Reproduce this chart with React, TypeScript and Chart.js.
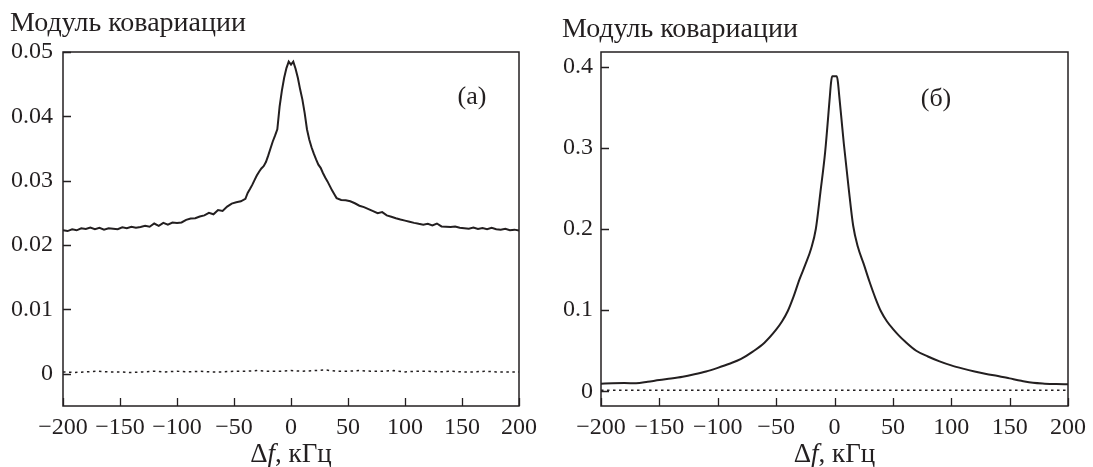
import React, { useEffect, useRef } from 'react';
import { Chart, registerables } from 'chart.js';

Chart.register(...registerables);

const FONT = '"Liberation Serif", "Times New Roman", serif';
const INK = '#231f20';

// ---- tick values & labels ----
const xTicks = [-200, -150, -100, -50, 0, 50, 100, 150, 200];
const xTickLabels = ['−200', '−150', '−100', '−50', '0', '50', '100', '150', '200'];
const yTicksA = [0, 0.01, 0.02, 0.03, 0.04, 0.05];
const yTickLabelsA = ['0', '0.01', '0.02', '0.03', '0.04', '0.05'];
const yTicksB = [0, 0.1, 0.2, 0.3, 0.4];
const yTickLabelsB = ['0', '0.1', '0.2', '0.3', '0.4'];

// ---- panel (а): solid curve ----
const freqA = [
  -200, -196, -192, -188, -184, -180, -176, -172, -168, -164, -160, -156, -152, -148, -144, -140,
  -136, -132, -128, -124, -120, -116, -112, -108, -104, -100, -96, -92, -88, -84, -80, -76, -72,
  -68, -64, -60, -56, -52, -48, -44, -40, -38, -36, -34, -32, -30, -28, -26, -24, -22, -20, -18,
  -16, -14, -12, -10, -8, -6, -4, -2, 0, 2, 4, 6, 8, 10, 12, 14, 16, 18, 20, 22, 24, 26, 28, 30,
  32, 34, 36, 38, 40, 44, 48, 52, 56, 60, 64, 68, 72, 76, 80, 84, 88, 92, 96, 100, 104, 108, 112,
  116, 120, 124, 128, 132, 136, 140, 144, 148, 152, 156, 160, 164, 168, 172, 176, 180, 184, 188,
  192, 196, 200,
];
const covA = [
  0.02232, 0.02218, 0.02245, 0.0223, 0.02262, 0.0225, 0.02272, 0.02248, 0.02268, 0.0224, 0.02262,
  0.02255, 0.02246, 0.02275, 0.02262, 0.02285, 0.0227, 0.02282, 0.023, 0.02285, 0.02335, 0.023,
  0.02345, 0.02318, 0.0235, 0.02345, 0.02352, 0.02392, 0.02412, 0.02418, 0.02445, 0.02462, 0.025,
  0.02478, 0.02545, 0.0253, 0.02598, 0.02645, 0.02665, 0.0268, 0.0272, 0.0281, 0.0287, 0.02935,
  0.0301, 0.0308, 0.0314, 0.0319, 0.03225, 0.0329, 0.0339, 0.035, 0.0361, 0.037, 0.038, 0.0415,
  0.044, 0.046, 0.0475, 0.0485, 0.04805, 0.0485, 0.0474, 0.046, 0.0442, 0.0426, 0.0405, 0.038,
  0.0364, 0.0352, 0.0342, 0.0333, 0.0325, 0.032, 0.0312, 0.0305, 0.0299, 0.0292, 0.0285, 0.0279,
  0.0273, 0.027, 0.02695, 0.0268, 0.0265, 0.02612, 0.0259, 0.0256, 0.02528, 0.02495, 0.02512,
  0.02462, 0.0244, 0.02418, 0.02398, 0.0238, 0.02362, 0.02345, 0.0233, 0.02318, 0.0233, 0.02305,
  0.02335, 0.0229, 0.02285, 0.0228, 0.0229, 0.0227, 0.02262, 0.02255, 0.02272, 0.0225, 0.02265,
  0.02248, 0.02268, 0.02245, 0.0224, 0.02252, 0.0223, 0.0224, 0.02225,
];

// ---- panel (а): dotted curve ----
const freqDotA = [
  -200, -190, -180, -170, -160, -150, -140, -130, -120, -110, -100, -90, -80, -70, -60, -50, -40,
  -30, -20, -10, 0, 10, 20, 30, 40, 50, 60, 70, 80, 90, 100, 110, 120, 130, 140, 150, 160, 170,
  180, 190, 200,
];
const dotA = [
  0.0003, 0.0002, 0.0003, 0.0004, 0.0003, 0.0003, 0.0002, 0.0003, 0.0004, 0.0003, 0.0004, 0.0003,
  0.0004, 0.0003, 0.0003, 0.0004, 0.0004, 0.0005, 0.0004, 0.0004, 0.0005, 0.0004, 0.0005, 0.0006,
  0.0004, 0.0004, 0.0005, 0.0004, 0.0004, 0.0005, 0.0003, 0.0004, 0.0004, 0.0003, 0.0004, 0.0003,
  0.0003, 0.0004, 0.0003, 0.0003, 0.0003,
];

// ---- panel (б): solid curve ----
const freqB = [
  -200, -190, -180, -170, -160, -150, -140, -130, -120, -110, -100, -90, -80, -70, -60, -50, -45,
  -40, -35, -30, -25, -20, -16, -12, -8, -4, -3, -2, 2, 3, 4, 6, 8, 12, 16, 20, 25, 30, 35, 40, 45,
  50, 55, 60, 70, 80, 90, 100, 110, 120, 130, 140, 150, 160, 170, 180, 190, 200,
];
const covB = [
  0.0095, 0.01, 0.0102, 0.01, 0.0118, 0.014, 0.0158, 0.018, 0.021, 0.0245, 0.029, 0.034, 0.04,
  0.049, 0.06, 0.076, 0.086, 0.099, 0.117, 0.138, 0.156, 0.176, 0.2, 0.246, 0.295, 0.363, 0.38,
  0.388, 0.388, 0.38, 0.365, 0.335, 0.305, 0.252, 0.204, 0.178, 0.157, 0.135, 0.115, 0.098, 0.086,
  0.077, 0.069, 0.062, 0.05, 0.043, 0.037, 0.032, 0.028, 0.0245, 0.0215, 0.019, 0.016, 0.013,
  0.0105, 0.0095, 0.009, 0.0088,
];

// ---- panel (б): dotted curve ----
const freqDotB = [-200, -150, -100, -50, 0, 50, 100, 150, 200];
const dotB = [0.0015, 0.0015, 0.0015, 0.0015, 0.0015, 0.0015, 0.0015, 0.0015, 0.0015];

type PanelSpec = {
  width: number;
  axisW: number;
  padRight: number;
  yMin: number;
  yMax: number;
  yTicks: number[];
  yLabels: string[];
  yPad: number;
  freq: number[];
  cov: number[];
  freqDot: number[];
  dot: number[];
  smooth: boolean;
  tag: string;
  tagX: number;
  tagY: number;
  titleX: number;
  titleY: number;
};

const TOP = 52;
const X_AXIS_H = 61;

function makeFramePlugin(p: PanelSpec) {
  return {
    id: 'frameAndText',
    afterDraw(chart: any) {
      const { ctx, chartArea: a, scales } = chart;
      ctx.save();
      ctx.strokeStyle = INK;
      ctx.lineWidth = 1.5;
      ctx.strokeRect(a.left, a.top, a.right - a.left, a.bottom - a.top);
      ctx.lineWidth = 1.3;
      ctx.beginPath();
      xTicks.forEach((v) => {
        const px = Math.round(scales.x.getPixelForValue(v)) + 0.5;
        ctx.moveTo(px, a.bottom);
        ctx.lineTo(px, a.bottom - 8);
      });
      p.yTicks.forEach((v) => {
        const py = Math.round(scales.y.getPixelForValue(v)) + 0.5;
        ctx.moveTo(a.left, py);
        ctx.lineTo(a.left + 8, py);
      });
      ctx.stroke();

      ctx.fillStyle = INK;
      ctx.textBaseline = 'middle';
      ctx.font = `28px ${FONT}`;
      ctx.textAlign = 'left';
      ctx.fillText('Модуль ковариации', p.titleX, p.titleY);
      ctx.font = `26px ${FONT}`;
      ctx.textAlign = 'center';
      ctx.fillText(p.tag, p.tagX, p.tagY);

      // axis title: Δf, кГц (f italic)
      const parts: [string, string][] = [
        ['Δ', `27px ${FONT}`],
        ['f', `italic 27px ${FONT}`],
        [', кГц', `27px ${FONT}`],
      ];
      let total = 0;
      const widths = parts.map(([t, f]) => {
        ctx.font = f;
        const w = ctx.measureText(t).width;
        total += w;
        return w;
      });
      let x = (a.left + a.right) / 2 - total / 2;
      ctx.textAlign = 'left';
      parts.forEach(([t, f], i) => {
        ctx.font = f;
        ctx.fillText(t, x, 455);
        x += widths[i];
      });
      ctx.restore();
    },
  };
}

function Panel({ p, left }: { p: PanelSpec; left: number }) {
  const ref = useRef<HTMLCanvasElement>(null);
  useEffect(() => {
    if (!ref.current) return;
    const chart = new Chart(ref.current, {
      type: 'line',
      data: {
        datasets: [
          {
            data: p.freq.map((f, i) => ({ x: f, y: p.cov[i] })),
            borderColor: INK,
            borderWidth: 2,
            pointRadius: 0,
            tension: 0,
            cubicInterpolationMode: p.smooth ? 'monotone' : 'default',
            fill: false,
          },
          {
            data: p.freqDot.map((f, i) => ({ x: f, y: p.dot[i] })),
            borderColor: INK,
            borderWidth: 1.5,
            borderDash: [2.5, 3.5],
            pointRadius: 0,
            tension: 0,
            fill: false,
          },
        ],
      },
      options: {
        animation: false,
        responsive: false,
        devicePixelRatio: 1,
        layout: { padding: { left: 0, top: TOP, right: p.padRight, bottom: 0 } },
        plugins: {
          legend: { display: false },
          tooltip: { enabled: false },
        },
        scales: {
          x: {
            type: 'linear',
            min: -200,
            max: 200,
            grid: { display: false, drawTicks: false },
            border: { display: false },
            afterBuildTicks: (s: any) => {
              s.ticks = xTicks.map((v) => ({ value: v }));
            },
            afterFit: (s: any) => {
              s.height = X_AXIS_H;
            },
            ticks: {
              padding: 7,
              color: INK,
              autoSkip: false,
              maxRotation: 0,
              font: { family: FONT, size: 24 },
              callback: (_v: any, i: number) => xTickLabels[i],
            },
          },
          y: {
            type: 'linear',
            min: p.yMin,
            max: p.yMax,
            grid: { display: false, drawTicks: false },
            border: { display: false },
            afterBuildTicks: (s: any) => {
              s.ticks = p.yTicks.map((v) => ({ value: v }));
            },
            afterFit: (s: any) => {
              s.width = p.axisW;
            },
            ticks: {
              padding: p.yPad,
              color: INK,
              autoSkip: false,
              font: { family: FONT, size: 24 },
              callback: (_v: any, i: number) => p.yLabels[i],
            },
          },
        },
      },
      plugins: [makeFramePlugin(p)],
    } as any);
    return () => chart.destroy();
  }, [p]);
  return (
    <div style={{ position: 'absolute', left, top: 0, width: p.width, height: 467 }}>
      <canvas ref={ref} width={p.width} height={467} style={{ width: p.width, height: 467 }} />
    </div>
  );
}

const panelA: PanelSpec = {
  width: 546,
  axisW: 63,
  padRight: 27,
  yMin: -0.005,
  yMax: 0.05,
  yTicks: yTicksA,
  yLabels: yTickLabelsA,
  yPad: 10,
  freq: freqA,
  cov: covA,
  freqDot: freqDotA,
  dot: dotA,
  smooth: false,
  tag: '(а)',
  tagX: 472,
  tagY: 97,
  titleX: 10,
  titleY: 24,
};

const panelB: PanelSpec = {
  width: 547,
  axisW: 55,
  padRight: 20,
  yMin: -0.018,
  yMax: 0.418,
  yTicks: yTicksB,
  yLabels: yTickLabelsB,
  yPad: 8,
  freq: freqB,
  cov: covB,
  freqDot: freqDotB,
  dot: dotB,
  smooth: true,
  tag: '(б)',
  tagX: 390,
  tagY: 99,
  titleX: 16,
  titleY: 30,
};

export default function App() {
  return (
    <div
      style={{
        position: 'fixed',
        left: 0,
        top: 0,
        width: 1093,
        height: 467,
        background: '#fff',
        overflow: 'hidden',
      }}
    >
      <Panel p={panelA} left={0} />
      <Panel p={panelB} left={546} />
    </div>
  );
}
